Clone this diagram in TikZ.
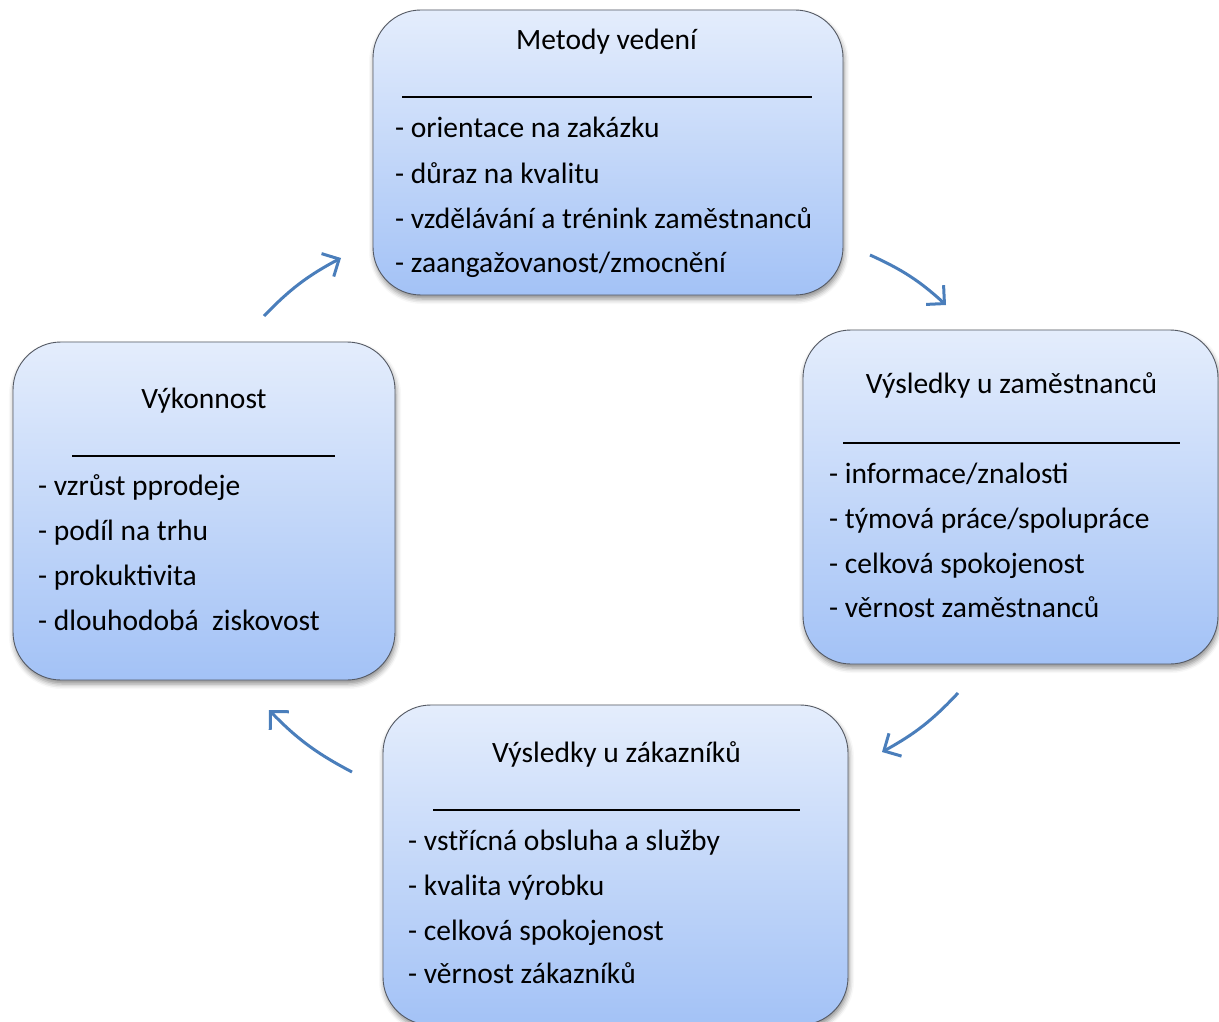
\documentclass[tikz,border=0pt]{standalone}
\usepackage{fontspec}
\setmainfont{Carlito}
\usetikzlibrary{arrows.meta,shadows.blur}

\definecolor{boxtop}{RGB}{228,237,252}
\definecolor{boxbot}{RGB}{163,194,246}
\definecolor{boxedge}{RGB}{85,90,100}
\definecolor{arrowblue}{RGB}{74,126,187}

\tikzset{
  panel/.style={draw=boxedge, line width=0.9pt, rounded corners=48pt,
    inner sep=0pt, top color=boxtop, bottom color=boxbot,
    blur shadow={shadow xshift=1pt, shadow yshift=-4pt,
      shadow blur radius=5pt, shadow opacity=45}},
  headline/.style={anchor=base, inner sep=0pt,
    font=\fontsize{29.5}{35}\selectfont},
  entry/.style={anchor=base west, inner sep=0pt,
    font=\fontsize{29.5}{35}\selectfont},
  rulebar/.style={line width=1.6pt, black},
  flow/.style={draw=arrowblue, line width=3pt,
    -{Straight Barb[length=13pt, width=26pt, line width=3pt]}}
}

\begin{document}
\begin{tikzpicture}[x=1pt, y=1pt]
\useasboundingbox (0,0) rectangle (1219,-1022);

% --- Metody vedení
\node[panel, minimum width=470pt, minimum height=285pt] (mv) at (608,-152.5) {};
\node[headline] (mvt) at (606.5,-50) {Metody vedení};
\coordinate (mvl1) at (402,-97);
\coordinate (mvl2) at (812,-97);
\draw[rulebar] (mvl1) -- (mvl2);
\node[entry] (mv1) at (395,-138) {- orientace na zakázku};
\node[entry] (mv2) at (395,-183) {- důraz na kvalitu};
\node[entry] (mv3) at (395,-228) {- vzdělávání a trénink zaměstnanců};
\node[entry] (mv4) at (395,-272) {- zaangažovanost/zmocnění};

% --- Výsledky u zaměstnanců
\node[panel, minimum width=415pt, minimum height=334pt] (vz) at (1010.5,-497) {};
\node[headline] (vzt) at (1011.5,-393) {Výsledky u zaměstnanců};
\coordinate (vzl1) at (843,-443);
\coordinate (vzl2) at (1180,-443);
\draw[rulebar] (vzl1) -- (vzl2);
\node[entry] (vz1) at (829,-483) {- informace/znalosti};
\node[entry] (vz2) at (829,-528) {- týmová práce/spolupráce};
\node[entry] (vz3) at (829,-573) {- celková spokojenost};
\node[entry] (vz4) at (829,-617) {- věrnost zaměstnanců};

% --- Výsledky u zákazníků
\node[panel, minimum width=465pt, minimum height=320pt] (vk) at (615.5,-865) {};
\node[headline] (vkt) at (616.5,-762) {Výsledky u zákazníků};
\coordinate (vkl1) at (433,-810);
\coordinate (vkl2) at (800,-810);
\draw[rulebar] (vkl1) -- (vkl2);
\node[entry] (vk1) at (408,-850) {- vstřícná obsluha a služby};
\node[entry] (vk2) at (408,-895) {- kvalita výrobku};
\node[entry] (vk3) at (408,-940) {- celková spokojenost};
\node[entry] (vk4) at (408,-983) {- věrnost zákazníků};

% --- Výkonnost
\node[panel, minimum width=382pt, minimum height=338pt] (vy) at (204,-511) {};
\node[headline] (vyt) at (204,-408) {Výkonnost};
\coordinate (vyl1) at (72,-456);
\coordinate (vyl2) at (335,-456);
\draw[rulebar] (vyl1) -- (vyl2);
\node[entry] (vy1) at (38,-495) {- vzrůst pprodeje};
\node[entry] (vy2) at (38,-540) {- podíl na trhu};
\node[entry] (vy3) at (38,-585) {- prokuktivita};
\node[entry] (vy4) at (38,-630) {- dlouhodobá\ \ ziskovost};

% --- cycle arrows
\coordinate (a1s) at (870,-255);  \coordinate (a1e) at (946,-305);
\coordinate (a2s) at (958,-693);  \coordinate (a2e) at (882,-752);
\coordinate (a3s) at (352,-772);  \coordinate (a3e) at (269,-710);
\coordinate (a4s) at (264,-316);  \coordinate (a4e) at (341,-258);
\draw[flow] (a1s) to[bend left=9] (a1e);
\draw[flow] (a2s) to[bend left=9] (a2e);
\draw[flow] (a3s) to[bend left=9] (a3e);
\draw[flow] (a4s) to[bend left=9] (a4e);
\end{tikzpicture}
\end{document}
